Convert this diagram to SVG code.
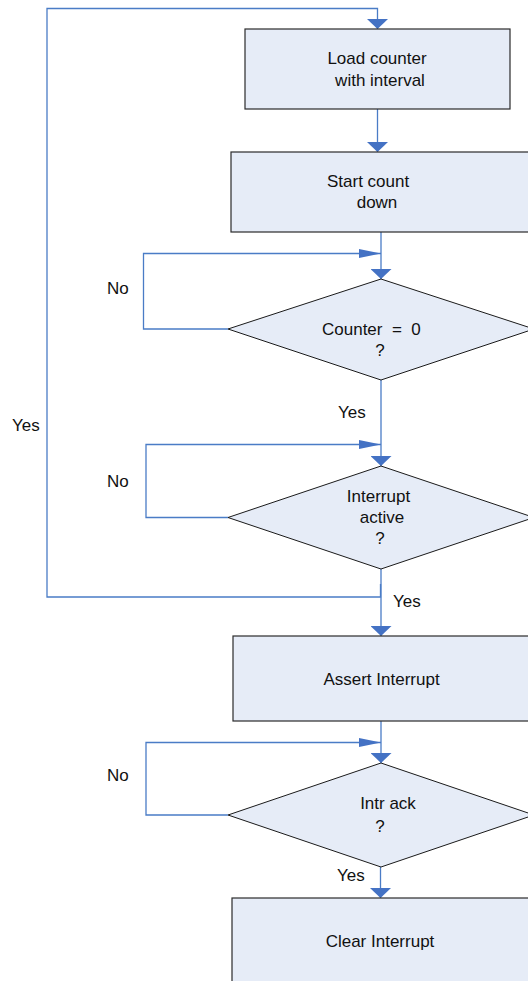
<svg xmlns="http://www.w3.org/2000/svg" width="528" height="981" viewBox="0 0 528 981">
<style>
.box{fill:#E6ECF7;stroke:#2b2b2b;stroke-width:1.2}
.dia{fill:#E6ECF7;stroke:#1a1a1a;stroke-width:1}
.con{fill:none;stroke:#4A7CC6;stroke-width:1.3}
text{font-family:"Liberation Sans",Arial,sans-serif;font-size:17px;fill:#111;white-space:pre}
.c{text-anchor:middle}
</style>
<defs>
<marker id="ah" markerUnits="userSpaceOnUse" viewBox="0 0 10 21" refX="10" refY="10.5" markerWidth="10" markerHeight="21" orient="auto"><path d="M0,0 L10,10.5 L0,21 z" fill="#4472C4"/></marker>
<marker id="al" markerUnits="userSpaceOnUse" viewBox="0 0 22 9" refX="22" refY="4.5" markerWidth="22" markerHeight="9" orient="auto"><path d="M0,0 L22,4.5 L0,9 z" fill="#4472C4"/></marker>
</defs>
<g id="connectors">
<path class="con" d="M377.5,109 V152" marker-end="url(#ah)"/>
<path class="con" d="M381,232 V279" marker-end="url(#ah)"/>
<path class="con" d="M228,329 H143.5 V253.5 H381" marker-end="url(#al)"/>
<path class="con" d="M381,380 V466" marker-end="url(#ah)"/>
<path class="con" d="M228,517.5 H146 V444.5 H381" marker-end="url(#al)"/>
<path class="con" d="M381,569 V636" marker-end="url(#ah)"/>
<path class="con" d="M380.5,584 V597 H47 V8.5 H377.5 V29" marker-end="url(#ah)"/>
<path class="con" d="M381,721 V763" marker-end="url(#ah)"/>
<path class="con" d="M228,815 H146 V742.5 H381" marker-end="url(#al)"/>
<path class="con" d="M380.5,867 V898" marker-end="url(#ah)"/>
</g>
<g id="load">
<rect class="box" x="245" y="29" width="265" height="80"/>
<text class="c" x="377" y="64">Load counter</text>
<text class="c" x="380" y="86">with interval</text>
</g>
<g id="start">
<rect class="box" x="231" y="152" width="300" height="80"/>
<text x="327" y="187">Start count</text>
<text class="c" x="377" y="208">down</text>
</g>
<g id="counterzero">
<polygon class="dia" points="381,279 534,329 381,380 228,329"/>
<text x="322" y="335">Counter  =  0</text>
<text class="c" x="380" y="356">?</text>
</g>
<g id="intactive">
<polygon class="dia" points="381,466 534,517.5 381,569 228,517.5"/>
<text class="c" x="378.5" y="502">Interrupt</text>
<text class="c" x="382" y="523">active</text>
<text class="c" x="380" y="544">?</text>
</g>
<g id="assert">
<rect class="box" x="233" y="636" width="298" height="85"/>
<text class="c" x="381.5" y="685">Assert Interrupt</text>
</g>
<g id="intrack">
<polygon class="dia" points="381,763 534,815 381,867 228,815"/>
<text class="c" x="388" y="809">Intr ack</text>
<text class="c" x="380" y="832">?</text>
</g>
<g id="clear">
<rect class="box" x="232" y="898" width="300" height="100"/>
<text class="c" x="380" y="947">Clear Interrupt</text>
</g>
<g id="labels">
<text x="107" y="294">No</text>
<text x="107" y="487">No</text>
<text x="107" y="781">No</text>
<text x="338" y="418">Yes</text>
<text x="393" y="607">Yes</text>
<text x="337" y="881">Yes</text>
<text x="12" y="431">Yes</text>
</g>
</svg>
